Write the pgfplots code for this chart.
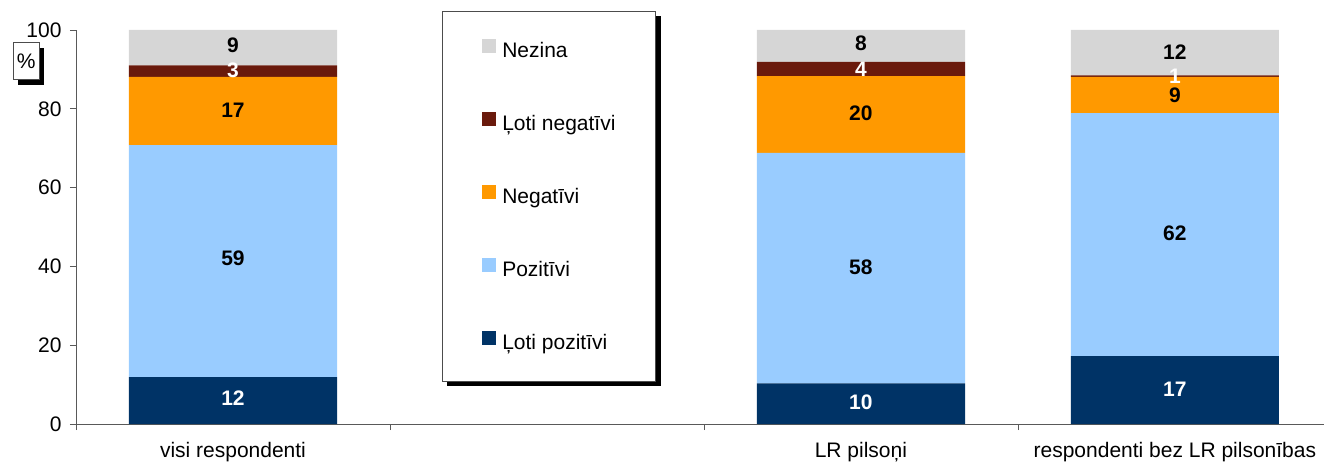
\documentclass[border=0pt]{standalone}
\usepackage{fontspec}
\setmainfont{Liberation Sans}
\usepackage{pgfplots}
\usepackage{pgfplotstable}
\pgfplotsset{compat=1.18}
\usetikzlibrary{shadows,backgrounds}
\definecolor{cGray}{RGB}{214,214,214}
\definecolor{cRed}{RGB}{106,26,12}
\definecolor{cOrange}{RGB}{255,153,0}
\definecolor{cLight}{RGB}{153,204,255}
\definecolor{cNavy}{RGB}{0,51,102}

\pgfplotstableread{
x vpoz poz neg vneg nez
0 11.9 58.9 17.3 2.9 9.0
2 10.3 58.5 19.5 3.6 8.1
3 17.2 61.7 9.2 0.4 11.5
}\datatable

\pgfplotstableread{
x y l
0 6.6 12
2 5.6 10
3 8.9 17
0 89.8 3
2 90.1 4
3 88.3 1
}\whitelabels

\pgfplotstableread{
x y l
0 42.1 59
2 39.8 58
3 48.5 62
0 79.7 17
2 78.9 20
3 83.5 9
0 96.2 9
2 96.7 8
3 94.4 12
}\blacklabels

\newcommand{\fs}{\fontsize{21}{25}\selectfont}

\pgfplotsset{myaxis/.style={
  scale only axis, width=1248pt, height=394pt,
  at={(76pt,40pt)}, anchor=south west,
  xmin=-0.5, xmax=3.475, ymin=0, ymax=100,
}}

\begin{document}
\begin{tikzpicture}
\path[use as bounding box] (0,0) rectangle (1324pt,464pt);
\begin{axis}[myaxis,
  ybar stacked, bar width=0.663,
  axis x line*=bottom, axis y line*=left,
  axis line style={black!65, line width=0.8pt},
  tick align=outside, major tick length=6pt,
  tick style={black!65, line width=0.8pt},
  ytick={0,20,...,100},
  yticklabel style={xshift=-5pt},
  xtick={-0.5,0.5,1.5,2.5}, xticklabels={,,,},
  extra x ticks={0,2,3},
  extra x tick labels={visi respondenti,LR pilsoņi,respondenti bez LR pilsonības},
  extra x tick style={major tick length=0pt, xticklabel style={yshift=-15pt}},
  tick label style={font=\fs},
  /pgf/number format/assume math mode=true,
  legend style={at={(0.2933,1.048)}, anchor=north west, draw=black!70, fill=white,
     name=leg,
     inner xsep=40pt, inner ysep=28pt, row sep=51pt,
     nodes={inner sep=0pt, text height=14pt, text depth=4pt, font=\fs},
     /tikz/every odd column/.append style={column sep=6pt}},
  legend cell align=left,
  reverse legend,
  legend image code/.code={\fill[#1] (0pt,-0.5pt) rectangle (14pt,13pt);},
  clip=false,
]
\addplot[fill=cNavy, draw=none] table[x=x,y=vpoz] {\datatable};
\addplot[fill=cLight, draw=none] table[x=x,y=poz] {\datatable};
\addplot[fill=cOrange, draw=none] table[x=x,y=neg] {\datatable};
\addplot[fill=cRed, draw=none] table[x=x,y=vneg] {\datatable};
\addplot[fill=cGray, draw=none] table[x=x,y=nez] {\datatable};
\legend{Ļoti pozitīvi, Pozitīvi, Negatīvi, Ļoti negatīvi, Nezina}
\node[draw=black!70, fill=white, drop shadow={shadow xshift=5pt, shadow yshift=-5pt, fill=black, opacity=1}, minimum width=26pt, minimum height=37pt, inner sep=0pt, font=\fs] at (rel axis cs:-0.040,0.921) {\%};
\end{axis}
\begin{scope}[on background layer]
\fill[black] ([shift={(5pt,-5pt)}]leg.south west) rectangle ([shift={(5pt,-5pt)}]leg.north east);
\end{scope}
\begin{axis}[myaxis, hide axis, clip=false,
  nodes near coords, point meta=explicit symbolic,
  nodes near coords align=center,
  every node near coord/.append style={anchor=center, font=\bfseries\fs, inner sep=0pt}]
\addplot[draw=none, mark=none, nodes near coords style={text=white}] table[x=x,y=y,meta=l] {\whitelabels};
\addplot[draw=none, mark=none, nodes near coords style={text=black}] table[x=x,y=y,meta=l] {\blacklabels};
\end{axis}
\end{tikzpicture}
\end{document}
